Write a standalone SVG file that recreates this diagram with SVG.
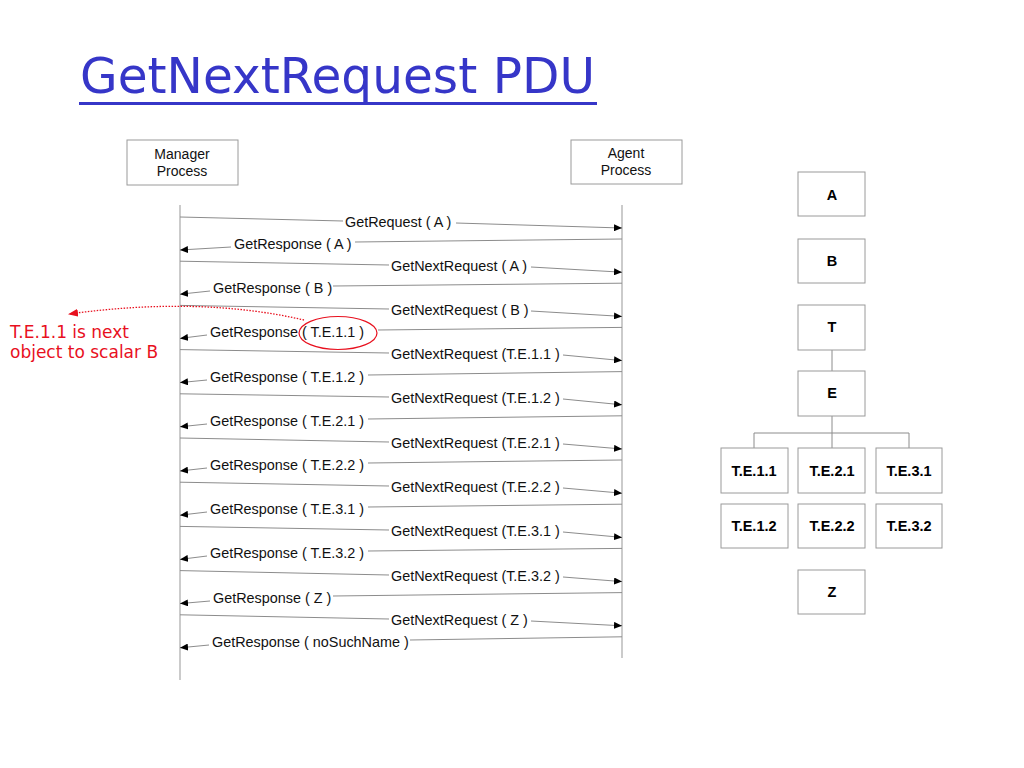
<svg xmlns="http://www.w3.org/2000/svg" width="1024" height="768" viewBox="0 0 1024 768">
<defs>
<marker id="ah" viewBox="0 0 8 7" refX="8" refY="3.5" markerWidth="8" markerHeight="7" markerUnits="userSpaceOnUse" orient="auto">
<path d="M0,0 L8,3.5 L0,7 z" fill="#000"/>
</marker>
<marker id="rah" viewBox="0 0 10 8" refX="9" refY="4" markerWidth="10" markerHeight="8" markerUnits="userSpaceOnUse" orient="auto">
<path d="M0,0 L10,4 L0,8 z" fill="#e8101e"/>
</marker>
<style>
.box{fill:#fff;stroke:#9a9a9a;stroke-width:1}
.life{stroke:#a8a8a8;stroke-width:1.2;fill:none}
.msg{stroke:#8c8c8c;stroke-width:1;fill:none;marker-end:url(#ah)}
.mt{font-family:"Liberation Sans",Arial,sans-serif;font-size:14.4px;fill:#111}
.pt{font-family:"Liberation Sans",Arial,sans-serif;font-size:14px;fill:#111;text-anchor:middle}
.bt{font-family:"Liberation Sans",Arial,sans-serif;font-size:14.5px;font-weight:bold;fill:#000;text-anchor:middle}
.tl{stroke:#8c8c8c;stroke-width:1;fill:none}
.red{font-family:"DejaVu Sans",Verdana,sans-serif;font-size:17px;fill:#e8101e}
</style>
</defs>
<rect width="1024" height="768" fill="#fff"/>

<g id="title">
<text x="80" y="93" font-family="'Comic Sans MS','DejaVu Sans',sans-serif" font-size="50" fill="#3636c8" textLength="515" lengthAdjust="spacingAndGlyphs">GetNextRequest PDU</text>
<rect x="79" y="102" width="518" height="3" fill="#3636c8"/>
</g>

<g id="manager">
<rect class="box" x="127" y="140" width="111" height="45"/>
<text class="pt" x="182" y="159">Manager</text>
<text class="pt" x="182" y="176">Process</text>
</g>
<g id="agent">
<rect class="box" x="571" y="140" width="111" height="44"/>
<text class="pt" x="626" y="158">Agent</text>
<text class="pt" x="626" y="175">Process</text>
</g>

<g id="lifelines">
<line class="life" x1="180" y1="205" x2="180" y2="680"/>
<line class="life" x1="622" y1="205" x2="622" y2="658"/>
</g>

<g id="connectors">
<path class="msg" d="M180,217 L343,221 M456,223 L622,228"/>
<path class="msg" d="M622,239 L355,242 M231,247 L180,250"/>
<path class="msg" d="M180,261.2 L389,265 M531,267 L622,272.2"/>
<path class="msg" d="M622,283.2 L333,286 M210,291 L180,294.2"/>
<path class="msg" d="M180,305.4 L389,309 M531,311 L622,316.4"/>
<path class="msg" d="M622,327.4 L378,330 M207,335 L180,338.4"/>
<path class="msg" d="M180,349.6 L389,353 M563,355 L622,360.6"/>
<path class="msg" d="M622,371.6 L368,375 M207,380 L180,382.6"/>
<path class="msg" d="M180,393.8 L389,397 M563,399 L622,404.8"/>
<path class="msg" d="M622,415.8 L368,419 M207,424 L180,426.8"/>
<path class="msg" d="M180,438 L389,442 M563,444 L622,449"/>
<path class="msg" d="M622,460 L368,463 M207,468 L180,471"/>
<path class="msg" d="M180,482.2 L389,486 M563,488 L622,493.2"/>
<path class="msg" d="M622,504.2 L368,507 M207,512 L180,515.2"/>
<path class="msg" d="M180,526.4 L389,530 M563,532 L622,537.4"/>
<path class="msg" d="M622,548.4 L368,551 M207,556 L180,559.4"/>
<path class="msg" d="M180,570.6 L389,575 M563,577 L622,581.6"/>
<path class="msg" d="M622,592.6 L333,596 M210,601 L180,603.6"/>
<path class="msg" d="M180,614.8 L389,619 M531,621 L622,625.8"/>
<path class="msg" d="M622,636.8 L410,640 M209,645 L180,647.8"/>
</g>

<g id="messages">
<text class="mt" x="345" y="227">GetRequest ( A )</text>
<text class="mt" x="234" y="249">GetResponse ( A )</text>
<text class="mt" x="391" y="271">GetNextRequest ( A )</text>
<text class="mt" x="213" y="293">GetResponse ( B )</text>
<text class="mt" x="391" y="315">GetNextRequest ( B )</text>
<text class="mt" x="210" y="337">GetResponse ( T.E.1.1 )</text>
<text class="mt" x="391" y="359">GetNextRequest (T.E.1.1 )</text>
<text class="mt" x="210" y="382">GetResponse ( T.E.1.2 )</text>
<text class="mt" x="391" y="403">GetNextRequest (T.E.1.2 )</text>
<text class="mt" x="210" y="426">GetResponse ( T.E.2.1 )</text>
<text class="mt" x="391" y="448">GetNextRequest (T.E.2.1 )</text>
<text class="mt" x="210" y="470">GetResponse ( T.E.2.2 )</text>
<text class="mt" x="391" y="492">GetNextRequest (T.E.2.2 )</text>
<text class="mt" x="210" y="514">GetResponse ( T.E.3.1 )</text>
<text class="mt" x="391" y="536">GetNextRequest (T.E.3.1 )</text>
<text class="mt" x="210" y="558">GetResponse ( T.E.3.2 )</text>
<text class="mt" x="391" y="581">GetNextRequest (T.E.3.2 )</text>
<text class="mt" x="213" y="603">GetResponse ( Z )</text>
<text class="mt" x="391" y="625">GetNextRequest ( Z )</text>
<text class="mt" x="212" y="647">GetResponse ( noSuchName )</text>
</g>

<g id="annotation">
<ellipse cx="338" cy="333" rx="39" ry="16.5" fill="none" stroke="#e8101e" stroke-width="1.2"/>
<path d="M304,320 Q200,296 69,314" fill="none" stroke="#e8101e" stroke-width="1.3" stroke-dasharray="1.5,1.5" marker-end="url(#rah)"/>
<text class="red" x="10" y="338">T.E.1.1 is next</text>
<text class="red" x="10" y="358">object to scalar B</text>
</g>

<g id="tree-lines">
<line class="tl" x1="832" y1="350" x2="832" y2="371"/>
<line class="tl" x1="832" y1="416" x2="832" y2="433"/>
<line class="tl" x1="754" y1="433" x2="909" y2="433"/>
<line class="tl" x1="754" y1="433" x2="754" y2="448"/>
<line class="tl" x1="832" y1="433" x2="832" y2="448"/>
<line class="tl" x1="909" y1="433" x2="909" y2="448"/>
</g>

<g id="node-A"><rect class="box" x="798" y="172" width="67" height="44"/><text class="bt" x="832" y="200">A</text></g>
<g id="node-B"><rect class="box" x="798" y="239" width="67" height="44"/><text class="bt" x="832" y="266">B</text></g>
<g id="node-T"><rect class="box" x="798" y="305" width="67" height="45"/><text class="bt" x="832" y="332">T</text></g>
<g id="node-E"><rect class="box" x="798" y="371" width="67" height="45"/><text class="bt" x="832" y="398">E</text></g>
<g id="node-TE11"><rect class="box" x="721" y="448" width="67" height="45"/><text class="bt" x="754" y="476">T.E.1.1</text></g>
<g id="node-TE21"><rect class="box" x="798" y="448" width="67" height="45"/><text class="bt" x="832" y="476">T.E.2.1</text></g>
<g id="node-TE31"><rect class="box" x="876" y="448" width="66" height="45"/><text class="bt" x="909" y="476">T.E.3.1</text></g>
<g id="node-TE12"><rect class="box" x="721" y="504" width="67" height="44"/><text class="bt" x="754" y="531">T.E.1.2</text></g>
<g id="node-TE22"><rect class="box" x="798" y="504" width="67" height="44"/><text class="bt" x="832" y="531">T.E.2.2</text></g>
<g id="node-TE32"><rect class="box" x="876" y="504" width="66" height="44"/><text class="bt" x="909" y="531">T.E.3.2</text></g>
<g id="node-Z"><rect class="box" x="798" y="570" width="67" height="44"/><text class="bt" x="832" y="597">Z</text></g>
</svg>
